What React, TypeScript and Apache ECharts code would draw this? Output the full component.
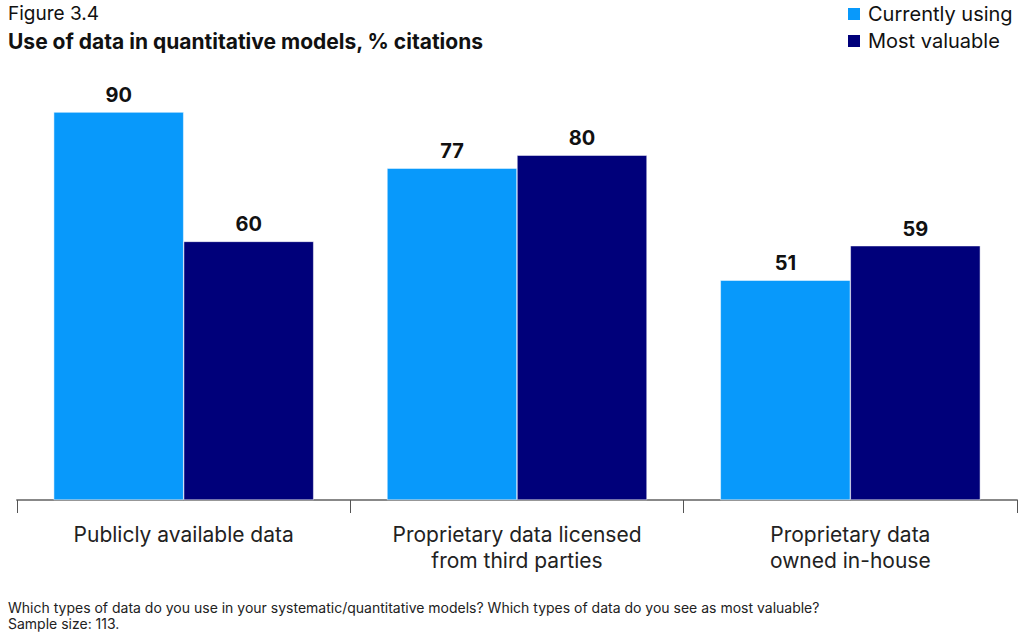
import React, { useEffect, useRef } from "react";
import * as echarts from "echarts";

const categories = [
  "Publicly available data",
  "Proprietary data licensed\nfrom third parties",
  "Proprietary data\nowned in-house",
];
const currentlyUsing = [90, 77, 51];
const mostValuable = [60, 80, 59];
const seriesNames = ["Currently using", "Most valuable"];

const FONT = "Inter, 'Noto Sans', sans-serif";

export default function App() {
  const ref = useRef<HTMLDivElement>(null);
  useEffect(() => {
    document.body.style.margin = "0";
    if (!ref.current) return;
    const chart = echarts.init(ref.current, undefined, { renderer: "svg" });
    const labelStyle = {
      show: true,
      position: "top" as const,
      distance: 7,
      fontSize: 20,
      fontWeight: "bold" as const,
      color: "#111",
      fontFamily: FONT,
    };
    chart.setOption({
      animation: false,
      backgroundColor: "#fff",
      textStyle: { fontFamily: FONT },
      title: [
        {
          text: "Figure 3.4",
          left: 0,
          top: 0,
          padding: [4, 8],
          textStyle: { fontSize: 19, fontWeight: "normal", color: "#111", fontFamily: FONT },
        },
        {
          text: "Use of data in quantitative models, % citations",
          left: 0,
          top: 0,
          padding: [31, 8],
          textStyle: { fontSize: 21, fontWeight: "bold", color: "#111", fontFamily: FONT },
        },
        {
          text:
            "Which types of data do you use in your systematic/quantitative models? Which types of data do you see as most valuable?\nSample size: 113.",
          left: 0,
          top: 0,
          padding: [599, 8],
          textStyle: {
            fontSize: 14,
            fontWeight: "normal",
            color: "#222",
            lineHeight: 16,
            fontFamily: FONT,
          },
        },
      ],
      legend: {
        orient: "vertical",
        left: 846,
        top: 4,
        padding: 0,
        itemWidth: 14,
        itemHeight: 14,
        itemGap: 7,
        icon: "rect",
        data: seriesNames,
        textStyle: { fontSize: 20, color: "#111", fontFamily: FONT, padding: [0, 0, 0, 2] },
      },
      grid: { left: 17, right: 2, top: 69, bottom: 141, containLabel: false },
      xAxis: {
        type: "category",
        data: categories,
        boundaryGap: true,
        axisLine: { lineStyle: { color: "#888", width: 2 } },
        axisTick: { show: true, length: 13, lineStyle: { color: "#555", width: 1 } },
        axisLabel: {
          fontSize: 21,
          color: "#222",
          margin: 21,
          lineHeight: 26,
          fontFamily: FONT,
          interval: 0,
        },
      },
      yAxis: {
        type: "value",
        min: 0,
        max: 100,
        show: false,
        splitLine: { show: false },
      },
      series: [
        {
          name: seriesNames[0],
          type: "bar",
          data: currentlyUsing,
          barGap: "0%",
          barCategoryGap: "22%",
          itemStyle: { color: "#0899FB", borderColor: "#fff", borderWidth: 0.5 },
          label: labelStyle,
        },
        {
          name: seriesNames[1],
          type: "bar",
          data: mostValuable,
          barGap: "0%",
          barCategoryGap: "22%",
          itemStyle: { color: "#00007A", borderColor: "#fff", borderWidth: 0.5 },
          label: labelStyle,
        },
      ],
    });
    return () => chart.dispose();
  }, []);
  return <div ref={ref} style={{ width: 1019, height: 641 }} />;
}
